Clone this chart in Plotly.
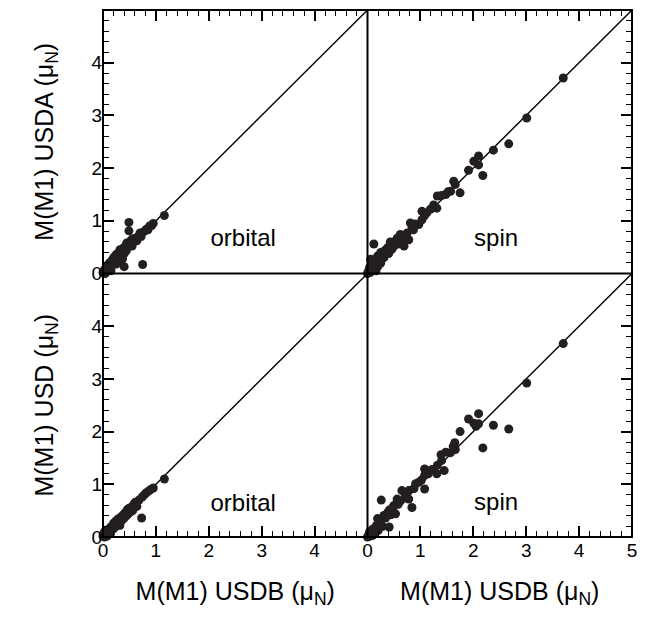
import plotly.graph_objects as go

# ---------------- data ----------------
orb_usdb_top = [0.00,0.02,0.04,0.05,0.07,0.08,0.10,0.12,0.13,0.15,0.17,0.18,0.20,0.22,0.24,0.25,0.27,0.28,0.30,0.32,
                0.33,0.35,0.37,0.38,0.40,0.40,0.42,0.44,0.45,0.47,0.49,0.49,0.50,0.52,0.55,0.56,0.58,0.62,0.64,0.66,
                0.70,0.72,0.75,0.78,0.82,0.85,0.88,0.92,0.95,1.16]
orb_usda     = [0.02,0.06,0.00,0.10,0.04,0.15,0.08,0.20,0.12,0.05,0.25,0.16,0.30,0.22,0.35,0.18,0.28,0.38,0.24,0.45,
                0.33,0.40,0.28,0.48,0.13,0.38,0.52,0.43,0.58,0.50,0.97,0.81,0.55,0.62,0.52,0.66,0.60,0.67,0.62,0.70,
                0.77,0.70,0.17,0.80,0.84,0.83,0.90,0.91,0.95,1.10]

orb_usdb_bot = [0.00,0.02,0.03,0.05,0.06,0.08,0.10,0.12,0.14,0.16,0.18,0.20,0.22,0.24,0.26,0.28,0.30,0.32,0.34,0.36,
                0.38,0.40,0.42,0.44,0.46,0.48,0.50,0.52,0.54,0.56,0.58,0.61,0.64,0.68,0.73,0.74,0.78,0.82,0.86,0.90,
                0.95,1.16]
orb_usd      = [0.02,0.08,0.00,0.13,0.05,0.02,0.10,0.16,0.06,0.20,0.14,0.26,0.18,0.30,0.24,0.34,0.28,0.22,0.38,0.32,
                0.42,0.36,0.46,0.40,0.52,0.44,0.55,0.48,0.56,0.50,0.62,0.66,0.58,0.70,0.36,0.76,0.80,0.84,0.87,0.90,
                0.93,1.10]

spin_usdb_top = [0.00,0.02,0.04,0.05,0.06,0.08,0.10,0.12,0.12,0.14,0.16,0.19,0.20,0.22,0.25,0.25,0.28,0.31,0.33,0.38,
                 0.40,0.43,0.46,0.50,0.53,0.56,0.58,0.62,0.65,0.69,0.72,0.75,0.78,0.81,0.84,0.87,0.90,0.97,1.03,1.03,
                 1.08,1.12,1.19,1.25,1.31,1.32,1.40,1.48,1.52,1.57,1.63,1.66,1.75,1.91,2.01,2.10,2.10,2.18,2.38,2.67,
                 3.01,3.70]
spin_usda     = [0.00,0.05,0.12,0.02,0.27,0.08,0.18,0.56,0.10,0.24,0.05,0.33,0.14,0.26,0.40,0.20,0.34,0.30,0.44,0.49,
                 0.38,0.60,0.46,0.52,0.62,0.67,0.56,0.74,0.64,0.52,0.70,0.77,0.64,0.96,0.88,0.83,0.94,0.93,1.02,1.18,
                 1.10,1.15,1.22,1.30,1.24,1.47,1.48,1.50,1.55,1.56,1.75,1.69,1.53,1.96,2.13,2.06,2.23,1.86,2.34,2.46,
                 2.95,3.71]

spin_usdb_bot = [0.00,0.02,0.04,0.05,0.07,0.09,0.10,0.12,0.14,0.17,0.19,0.20,0.22,0.25,0.26,0.28,0.31,0.34,0.38,0.41,
                 0.41,0.44,0.48,0.50,0.53,0.56,0.58,0.62,0.65,0.70,0.74,0.78,0.78,0.84,0.88,0.91,0.97,1.02,1.08,1.08,
                 1.08,1.15,1.22,1.31,1.32,1.39,1.40,1.45,1.48,1.57,1.62,1.65,1.66,1.75,1.91,2.01,2.05,2.10,2.10,2.18,
                 2.38,2.67,3.01,3.70]
spin_usd      = [0.00,0.04,0.10,0.02,0.06,0.14,0.03,0.16,0.08,0.22,0.35,0.12,0.25,0.30,0.70,0.20,0.41,0.36,0.46,0.51,
                 0.19,0.42,0.56,0.60,0.44,0.72,0.62,0.68,0.88,0.74,0.80,0.88,0.72,0.56,0.92,1.01,1.04,1.08,1.29,1.17,
                 0.91,1.20,1.28,1.20,1.36,1.56,1.45,1.26,1.61,1.60,1.72,1.79,1.66,2.00,2.24,2.16,2.10,2.15,2.34,1.69,
                 2.12,2.05,2.92,3.67]

diag = [0, 5]
tick_vals = [0, 1, 2, 3, 4, 5]
tick_full = ["0", "1", "2", "3", "4", "5"]
tick_no5 = ["0", "1", "2", "3", "4", " "]
panel_labels = ["orbital", "spin", "orbital", "spin"]
label_x = [2.65, 2.43, 2.65, 2.43]
label_y = [0.64, 0.64, 0.61, 0.63]
x_title = "M(M1) USDB (μ<sub>N</sub>)"
y_titles = ["M(M1) USDA (μ<sub>N</sub>)", "M(M1) USD (μ<sub>N</sub>)"]

# ---------------- figure ----------------
FONT = "Liberation Sans, Arial, Helvetica, sans-serif"
MK = "#231f20"
fig = go.Figure()

panels = [
    ("x", "y", orb_usdb_top, orb_usda),
    ("x2", "y2", spin_usdb_top, spin_usda),
    ("x3", "y3", orb_usdb_bot, orb_usd),
    ("x4", "y4", spin_usdb_bot, spin_usd),
]
for i, (xa, ya, xs, ys) in enumerate(panels):
    fig.add_trace(go.Scatter(x=diag, y=diag, mode="lines", xaxis=xa, yaxis=ya,
                             line=dict(color="black", width=1.4), showlegend=False))
    fig.add_trace(go.Scatter(x=xs, y=ys, mode="markers", xaxis=xa, yaxis=ya, cliponaxis=False,
                             marker=dict(color=MK, size=9), showlegend=False))
    fig.add_trace(go.Scatter(x=[label_x[i]], y=[label_y[i]], mode="text", text=[panel_labels[i]],
                             xaxis=xa, yaxis=ya, showlegend=False, hoverinfo="skip",
                             textfont=dict(family=FONT, size=24, color="black")))

def axis(domain, anchor, side, labels=None, title=None, standoff=0):
    d = dict(domain=domain, anchor=anchor, side=side, range=[0, 5], showgrid=False, zeroline=False,
             showline=False, automargin=False,
             ticks="inside", ticklen=11, tickwidth=1.5, tickcolor="black",
             tickvals=tick_vals,
             tickfont=dict(family=FONT, size=19, color="black"),
             minor=dict(ticks="inside", ticklen=6, tickwidth=1.2, tickcolor="black", dtick=0.2, showgrid=False))
    if labels is None:
        d["showticklabels"] = False
    else:
        d["ticktext"] = labels
    if title:
        d["title"] = dict(text=title, font=dict(family=FONT, size=25, color="black"), standoff=standoff)
    return d

fig.update_layout(
    width=648, height=617,
    margin=dict(l=103, r=16, t=10, b=80),
    paper_bgcolor="white", plot_bgcolor="white",
    xaxis=axis([0, 0.5], "y", "top"),
    yaxis=axis([0.5, 1], "x", "left", tick_full, y_titles[0], 30),
    xaxis2=axis([0.5, 1], "y2", "top"),
    yaxis2=axis([0.5, 1], "x2", "right"),
    xaxis3=axis([0, 0.5], "y3", "bottom", tick_no5, x_title, 22),
    yaxis3=axis([0, 0.5], "x3", "left", tick_no5, y_titles[1], 30),
    xaxis4=axis([0.5, 1], "y4", "bottom", tick_full, x_title, 22),
    yaxis4=axis([0, 0.5], "x4", "right"),
)

# frame: outer box and central cross (uniform thickness)
frame = dict(color="black", width=2)
fig.add_shape(type="rect", xref="paper", yref="paper", x0=0, x1=1, y0=0, y1=1, line=frame, layer="above")
fig.add_shape(type="line", xref="paper", yref="paper", x0=0.5, x1=0.5, y0=0, y1=1, line=frame, layer="above")
fig.add_shape(type="line", xref="paper", yref="paper", x0=0, x1=1, y0=0.5, y1=0.5, line=frame, layer="above")

fig.write_html("out.html")
